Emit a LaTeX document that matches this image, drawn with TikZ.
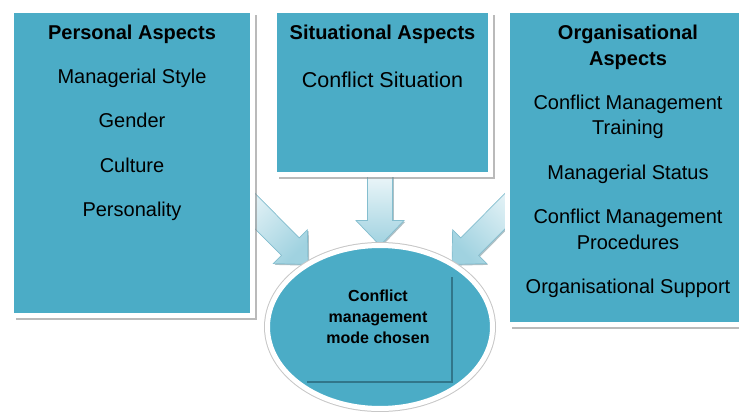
\documentclass[tikz,border=0pt]{standalone}
\usepackage{fontspec}
\setmainfont{Liberation Sans}
\usepackage{tikz}
\usetikzlibrary{shapes,positioning,shadows,calc,backgrounds}
\definecolor{cmteal}{RGB}{75,172,198}
\definecolor{cmdarkteal}{RGB}{49,118,138}
\definecolor{cmarrowtop}{RGB}{236,246,249}
\definecolor{cmarrowbot}{RGB}{160,210,224}
\definecolor{cmarrowline}{RGB}{132,190,207}
\definecolor{cmshadow}{RGB}{110,140,150}
\tikzstyle{panel} = [rectangle, fill=cmteal, draw=white, line width=5pt, inner sep=0pt, outer sep=0pt,
  drop shadow={shadow xshift=4.5pt, shadow yshift=-4.5pt, fill=black!45, opacity=0.6}]
\tikzstyle{paneltext} = [align=center, inner sep=0pt, font=\fontsize{20}{26}\selectfont]
\tikzstyle{modebox} = [ellipse, fill=cmteal, draw=white, line width=5pt, inner sep=0pt, outer sep=0pt,
  minimum width=225pt, minimum height=163pt, preaction={draw=black!22, line width=7pt}]
\tikzstyle{modetext} = [align=center, inner sep=0pt, font=\fontsize{16}{21}\selectfont\bfseries]

% outline of a block arrow from #1 to tip #2
\newcommand{\arrowoutline}[2]{($(#1)!12.5pt!90:(#2)$) -- ($(ba)!12.5pt!90:(#2)$) -- ($(ba)!24pt!90:(#2)$)
  -- (#2) -- ($(ba)!24pt!-90:(#2)$) -- ($(ba)!12.5pt!-90:(#2)$) -- ($(#1)!12.5pt!-90:(#2)$) -- cycle}
\newcommand{\blockarrow}[3]{%
  \coordinate (ba) at ($(#2)!25pt!(#1)$);
  \begin{scope}[transform canvas={shift={(1.3pt,-1.3pt)}}]
    \fill[cmshadow, opacity=0.55] \arrowoutline{#1}{#2};
  \end{scope}
  \shade[top color=cmarrowtop, bottom color=cmarrowbot, shading angle=#3, draw=cmarrowline, line width=0.7pt] \arrowoutline{#1}{#2};
}

\begin{document}
\begin{tikzpicture}[x=1pt, y=-1pt]
\useasboundingbox (0,0) rectangle (739,412);
\clip (0,0) rectangle (739,412);

% Aspect boxes
\node[panel, minimum width=241pt, minimum height=305pt] (pers) at (132,163) {};
\node[paneltext, anchor=north] (perstext) at ($(pers.north)+(0,14)$)
  {\textbf{Personal Aspects}\\[18.3pt] Managerial Style\\[18.3pt] Gender\\[18.3pt] Culture\\[18.3pt] Personality};

\node[panel, minimum width=216pt, minimum height=164pt] (sit) at (382.5,92.5) {};
\node[paneltext, anchor=north] (sittext) at ($(sit.north)+(0,14)$)
  {\textbf{Situational Aspects}\\[22pt] {\fontsize{21.5}{26}\selectfont Conflict Situation}};

\node[panel, minimum width=241pt, minimum height=314pt] (org) at (628,167.5) {};
\node[paneltext, anchor=north, font=\fontsize{20}{25.5}\selectfont] (orgtext) at ($(org.north)+(0,14.5)$)
  {\textbf{Organisational}\\\textbf{Aspects}\\[18.8pt] Conflict Management\\Training\\[18.8pt] Managerial Status\\[18.8pt]
   Conflict Management\\Procedures\\[18.8pt] Organisational Support};

% Outcome
\node[modebox] (mode) at (380,327) {};
\draw[cmdarkteal, line width=1.3pt] ($(mode.center)+(-73,55)$) -- ($(mode.center)+(72,55)$) -- ($(mode.center)+(72,-50)$);
\node[modetext] (modelabel) at (378,317) {Conflict\\management\\mode chosen};

% Block arrows
\coordinate (persout) at (238,194);
\coordinate (orgout) at (522,194);
\coordinate (sitout) at (mode.north |- sit.south);
\begin{pgfonlayer}{background}
\blockarrow{persout}{mode.139}{45}
\blockarrow{sitout}{mode.north}{0}
\blockarrow{orgout}{mode.41}{-45}
\end{pgfonlayer}
\end{tikzpicture}
\end{document}
